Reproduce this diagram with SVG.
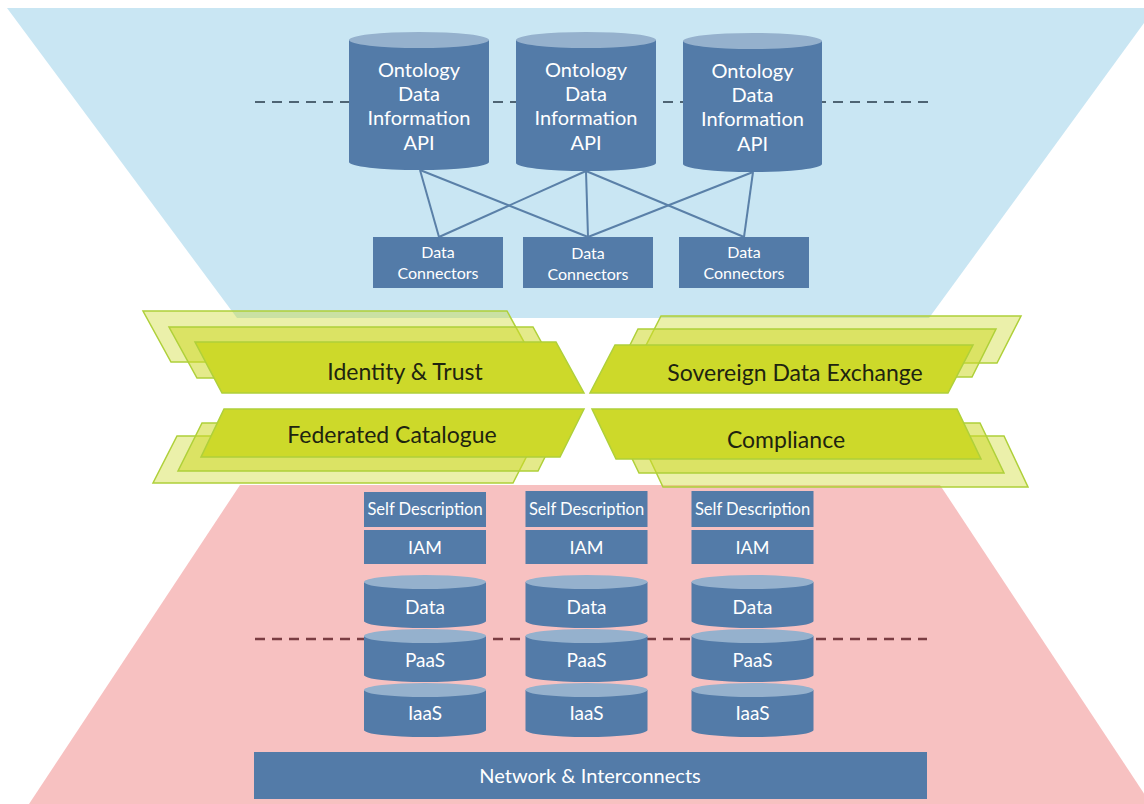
<svg xmlns="http://www.w3.org/2000/svg" width="1144" height="804" viewBox="0 0 1144 804">
<style>
.body{fill:#537ba8}
.top{fill:#95b1cd}
.box{fill:#537ba8}
.wt{fill:#ffffff;font-family:Lato,"Open Sans",sans-serif;text-anchor:middle}
.gt{fill:#1e2410;font-family:Lato,"Open Sans",sans-serif;font-size:23px;text-anchor:middle}
.g1{fill:#cdd92a;stroke:#afd03a;stroke-width:1.5}
.g2{fill:#cdd92a;fill-opacity:0.55;stroke:#afd03a;stroke-width:1.5}
.g3{fill:#cdd92a;fill-opacity:0.4;stroke:#afd03a;stroke-width:1.5}
.conn{stroke:#5a80a8;stroke-width:2;fill:none}
</style>
<rect width="1144" height="804" fill="#ffffff"/>
<g id="backgrounds">
<polygon points="7,8 1155,8 929,318 237,318" fill="#c9e6f3"/>
<polygon points="240,485 940,485 1151,804 29,804" fill="#f7c1c1"/>
</g>
<g id="dashed-lines">
<line x1="255" y1="102" x2="929" y2="102" stroke="#4e6473" stroke-width="2" stroke-dasharray="10 7"/>
<line x1="255" y1="639" x2="927" y2="639" stroke="#7a3c42" stroke-width="2.5" stroke-dasharray="10 7"/>
</g>
<g id="connectors">
<line class="conn" x1="420" y1="170" x2="439" y2="237"/>
<line class="conn" x1="420" y1="170" x2="588" y2="237"/>
<line class="conn" x1="586" y1="171" x2="439" y2="237"/>
<line class="conn" x1="586" y1="171" x2="588" y2="237"/>
<line class="conn" x1="586" y1="171" x2="744" y2="237"/>
<line class="conn" x1="753" y1="172" x2="588" y2="237"/>
<line class="conn" x1="753" y1="172" x2="744" y2="237"/>
</g>
<g id="api1">
<path class="body" d="M349,40 V162 A70,8 0 0 0 489,162 V40 Z"/>
<ellipse class="top" cx="419" cy="40" rx="70" ry="8"/>
<text class="wt" font-size="20" x="419" y="77">Ontology</text>
<text class="wt" font-size="20" x="419" y="101">Data</text>
<text class="wt" font-size="20" x="419" y="125">Information</text>
<text class="wt" font-size="20" x="419" y="150">API</text>
</g>
<g id="api2">
<path class="body" d="M516,40 V163 A70,8 0 0 0 656,163 V40 Z"/>
<ellipse class="top" cx="586" cy="40" rx="70" ry="8"/>
<text class="wt" font-size="20" x="586" y="77">Ontology</text>
<text class="wt" font-size="20" x="586" y="101">Data</text>
<text class="wt" font-size="20" x="586" y="125">Information</text>
<text class="wt" font-size="20" x="586" y="150">API</text>
</g>
<g id="api3">
<path class="body" d="M683,41 V164 A69.5,8 0 0 0 822,164 V41 Z"/>
<ellipse class="top" cx="752.5" cy="41" rx="69.5" ry="8"/>
<text class="wt" font-size="20" x="752.5" y="78">Ontology</text>
<text class="wt" font-size="20" x="752.5" y="102">Data</text>
<text class="wt" font-size="20" x="752.5" y="126">Information</text>
<text class="wt" font-size="20" x="752.5" y="151">API</text>
</g>
<g id="dc1">
<rect class="box" x="373" y="237" width="130" height="51"/>
<text class="wt" font-size="16" x="438" y="258">Data</text>
<text class="wt" font-size="16" x="438" y="279">Connectors</text>
</g>
<g id="dc2">
<rect class="box" x="523" y="237" width="130" height="51"/>
<text class="wt" font-size="16" x="588" y="259">Data</text>
<text class="wt" font-size="16" x="588" y="280">Connectors</text>
</g>
<g id="dc3">
<rect class="box" x="679" y="237" width="130" height="51"/>
<text class="wt" font-size="16" x="744" y="258">Data</text>
<text class="wt" font-size="16" x="744" y="279">Connectors</text>
</g>
<g id="identity-trust">
<polygon class="g3" points="143,311 507,311 535,362 171,362"/>
<polygon class="g2" points="169,327 533,327 561,378 197,378"/>
<polygon class="g1" points="195,342 556,342 584,393 222,393"/>
<text class="gt" x="405" y="380">Identity &amp; Trust</text>
</g>
<g id="federated-catalogue">
<polygon class="g3" points="177,436 537,436 513,483 153,483"/>
<polygon class="g2" points="202,423 562,423 538,471 178,471"/>
<polygon class="g1" points="224,409 584,409 560,457 201,457"/>
<text class="gt" x="392" y="443">Federated Catalogue</text>
</g>
<g id="sovereign-data-exchange">
<polygon class="g3" points="661,316 1021,316 997,363 637,363"/>
<polygon class="g2" points="638,329 996,329 972,377 614,377"/>
<polygon class="g1" points="615,345 973,345 948,393 590,393"/>
<text class="gt" x="795" y="381">Sovereign Data Exchange</text>
</g>
<g id="compliance">
<polygon class="g3" points="639,436 1004,436 1028,487 663,487"/>
<polygon class="g2" points="615,423 980,423 1004,473 639,473"/>
<polygon class="g1" points="592,409 957,409 981,459 616,459"/>
<text class="gt" x="786" y="448">Compliance</text>
</g>
<g id="stack1">
<rect class="box" x="364" y="492" width="122" height="35"/>
<text class="wt" font-size="16.5" x="425" y="515">Self Description</text>
<rect class="box" x="364" y="530" width="122" height="34"/>
<text class="wt" font-size="18" x="425" y="554">IAM</text>
<path class="body" d="M364,582 V621 A61,7 0 0 0 486,621 V582 Z"/>
<ellipse class="top" cx="425" cy="582" rx="61" ry="7"/>
<text class="wt" font-size="19" x="425" y="614">Data</text>
<path class="body" d="M364,636 V675 A61,7 0 0 0 486,675 V636 Z"/>
<ellipse class="top" cx="425" cy="636" rx="61" ry="7"/>
<text class="wt" font-size="19" x="425" y="667">PaaS</text>
<path class="body" d="M364,690 V730 A61,7 0 0 0 486,730 V690 Z"/>
<ellipse class="top" cx="425" cy="690" rx="61" ry="7"/>
<text class="wt" font-size="19" x="425" y="720">IaaS</text>
</g>
<g id="stack2">
<rect class="box" x="525.5" y="491" width="122" height="36"/>
<text class="wt" font-size="16.5" x="586.5" y="515">Self Description</text>
<rect class="box" x="525.5" y="530" width="122" height="34"/>
<text class="wt" font-size="18" x="586.5" y="554">IAM</text>
<path class="body" d="M525.5,582 V621 A61,7 0 0 0 647.5,621 V582 Z"/>
<ellipse class="top" cx="586.5" cy="582" rx="61" ry="7"/>
<text class="wt" font-size="19" x="586.5" y="614">Data</text>
<path class="body" d="M525.5,636 V675 A61,7 0 0 0 647.5,675 V636 Z"/>
<ellipse class="top" cx="586.5" cy="636" rx="61" ry="7"/>
<text class="wt" font-size="19" x="586.5" y="667">PaaS</text>
<path class="body" d="M525.5,690 V730 A61,7 0 0 0 647.5,730 V690 Z"/>
<ellipse class="top" cx="586.5" cy="690" rx="61" ry="7"/>
<text class="wt" font-size="19" x="586.5" y="720">IaaS</text>
</g>
<g id="stack3">
<rect class="box" x="691.5" y="491" width="122" height="36"/>
<text class="wt" font-size="16.5" x="752.5" y="515">Self Description</text>
<rect class="box" x="691.5" y="530" width="122" height="34"/>
<text class="wt" font-size="18" x="752.5" y="554">IAM</text>
<path class="body" d="M691.5,582 V621 A61,7 0 0 0 813.5,621 V582 Z"/>
<ellipse class="top" cx="752.5" cy="582" rx="61" ry="7"/>
<text class="wt" font-size="19" x="752.5" y="614">Data</text>
<path class="body" d="M691.5,636 V675 A61,7 0 0 0 813.5,675 V636 Z"/>
<ellipse class="top" cx="752.5" cy="636" rx="61" ry="7"/>
<text class="wt" font-size="19" x="752.5" y="667">PaaS</text>
<path class="body" d="M691.5,690 V730 A61,7 0 0 0 813.5,730 V690 Z"/>
<ellipse class="top" cx="752.5" cy="690" rx="61" ry="7"/>
<text class="wt" font-size="19" x="752.5" y="720">IaaS</text>
</g>
<g id="network">
<rect class="box" x="254" y="752" width="673" height="47"/>
<text class="wt" font-size="20" x="590" y="783">Network &amp; Interconnects</text>
</g>
</svg>
